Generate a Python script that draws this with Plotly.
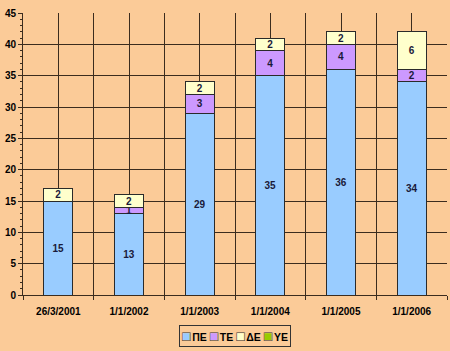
import plotly.graph_objects as go

categories = ["26/3/2001", "1/1/2002", "1/1/2003", "1/1/2004", "1/1/2005", "1/1/2006"]
pe = [15, 13, 29, 35, 36, 34]
te = [0, 1, 3, 4, 4, 2]
de = [2, 2, 2, 2, 2, 6]
ye = [0, 0, 0, 0, 0, 0]

series = [
    ("ΠΕ", pe, "#99CCFF"),
    ("ΤΕ", te, "#CC99FF"),
    ("ΔΕ", de, "#FFFFCC"),
    ("ΥΕ", ye, "#99CC00"),
]

BG = "#FBCB98"
GRID = "#3B2C1E"
FONT = "Arial, Liberation Sans, sans-serif"

xs = list(range(len(categories)))
fig = go.Figure()
for name, vals, color in series:
    fig.add_trace(go.Bar(
        x=xs, y=vals, name=name,
        marker=dict(color=color, line=dict(color="#2A2A2A", width=1)),
        text=[str(v) if v else "" for v in vals],
        textposition="inside", insidetextanchor="middle", textangle=0,
        textfont=dict(family=FONT, size=10, color="#1A1A3A", weight="bold"),
        width=0.41,
    ))

SQ = 14
GAP = "<span style='font-size:6px'>&nbsp;</span>"
SEP = "&nbsp;"
fill_text = SEP.join(
    f"<span style='color:{c};font-size:{SQ}px'>■</span>{GAP}<b>{n}</b>" for n, _, c in series
)
outline_text = SEP.join(
    f"<span style='color:#333333;font-size:{SQ}px'>□</span>{GAP}<span style='color:rgba(0,0,0,0)'><b>{n}</b></span>"
    for n, _, c in series
)

common = dict(xref="paper", yref="paper", x=0.5, y=-0.147,
              xanchor="center", yanchor="middle", showarrow=False,
              font=dict(family=FONT, size=10.5, color="#000000"), borderpad=2)

fig.update_layout(
    barmode="stack",
    width=450, height=351,
    margin=dict(l=23, r=3, t=13, b=56),
    paper_bgcolor=BG, plot_bgcolor=BG,
    font=dict(family=FONT, size=10, color="#000000"),
    uniformtext=dict(mode="show", minsize=10),
    showlegend=False,
    annotations=[
        dict(text=fill_text, bordercolor="#333333", borderwidth=1, bgcolor=BG, **common),
        dict(text=outline_text, bordercolor="rgba(0,0,0,0)", borderwidth=1, **common),
    ],
)
fig.update_xaxes(
    range=[-0.5, len(categories) - 0.5],
    tickmode="array", tickvals=xs, ticktext=categories,
    ticks="outside", ticklen=7, tickcolor="rgba(0,0,0,0)",
    tickfont=dict(family=FONT, size=10, weight="bold"),
    showgrid=True, gridcolor=GRID, gridwidth=1,
    showline=True, linecolor=GRID, linewidth=1,
    minor=dict(tickmode="array", tickvals=[i - 0.5 for i in range(len(categories) + 1)],
               showgrid=True, gridcolor=GRID, gridwidth=1,
               ticks="outside", ticklen=4, tickcolor=GRID),
    zeroline=False,
)
fig.update_yaxes(
    range=[0, 45], dtick=5,
    ticks="outside", ticklen=4, tickcolor=GRID,
    tickfont=dict(family=FONT, size=10, weight="bold"),
    showgrid=True, gridcolor=GRID, gridwidth=1,
    showline=True, linecolor=GRID, linewidth=1,
    minor=dict(dtick=1, ticks="outside", ticklen=2, tickcolor=GRID, showgrid=False),
    zeroline=False,
)

fig.write_html("out.html")
